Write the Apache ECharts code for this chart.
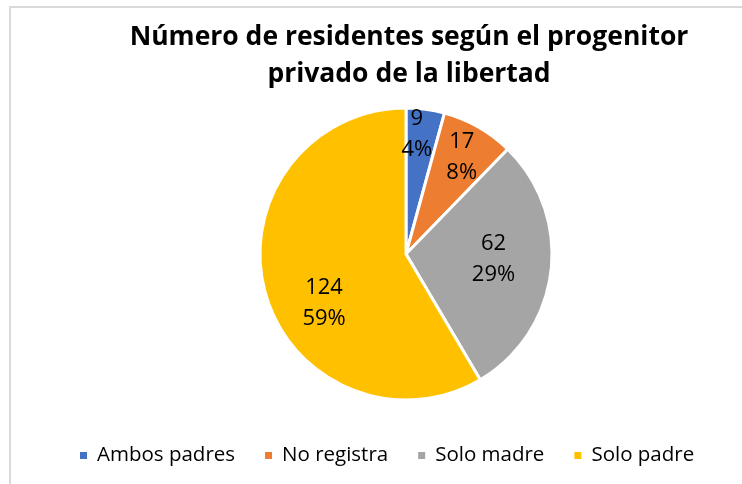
<!DOCTYPE html>
<html>
<head>
<meta charset="utf-8">
<script src="https://cdn.jsdelivr.net/npm/echarts@6/dist/echarts.min.js"></script>
<style>
html, body { margin: 0; padding: 0; background: #fff; }
#chart { width: 742px; height: 484px; }
</style>
</head>
<body>
<div id="chart"></div>
<script>
const categories = ['Ambos padres', 'No registra', 'Solo madre', 'Solo padre'];
const values = [9, 17, 62, 124];
const colors = ['#4472C4', '#ED7D31', '#A5A5A5', '#FFC000'];
// label placement: distance from centre (share of radius) and turn from the slice middle (deg)
const labelDist = [0.83, 0.77, 0.6, 0.65];
const labelTurn = [-2.5, 0, -4, -15];

const cx = 406, cy = 254, radius = 146;
const total = values.reduce((a, b) => a + b, 0);

const chart = echarts.init(document.getElementById('chart'));

const option = {
  animation: false,
  color: colors,
  title: {
    text: 'Número de residentes según el progenitor\nprivado de la libertad',
    left: 409,
    textAlign: 'center',
    top: 19,
    padding: 0,
    textStyle: {
      fontFamily: 'Open Sans',
      fontSize: 26.5,
      fontWeight: 'bold',
      lineHeight: 37,
      color: '#000'
    }
  },
  legend: {
    bottom: 18,
    left: 78,
    padding: 0,
    icon: 'rect',
    itemWidth: 9,
    itemHeight: 9,
    itemGap: 28,
    textStyle: {
      fontFamily: 'Open Sans',
      fontSize: 20.5,
      color: '#000',
      padding: [0, 0, 0, 4]
    },
    data: categories
  },
  graphic: [{
    type: 'rect',
    shape: { x: 10, y: 7, width: 760, height: 500 },
    style: { fill: 'none', stroke: '#d9d9d9', lineWidth: 2 },
    silent: true
  }],
  series: [{
    type: 'pie',
    center: [cx, cy],
    radius: [0, radius],
    startAngle: 90,
    clockwise: true,
    percentPrecision: 0,
    itemStyle: { borderColor: '#fff', borderWidth: 3 },
    label: {
      show: true,
      position: 'inside',
      formatter: '{c}\n{d}%',
      fontFamily: 'Open Sans',
      fontSize: 22,
      lineHeight: 31,
      color: '#000'
    },
    labelLine: { show: false },
    labelLayout: function (params) {
      const i = params.dataIndex;
      let before = 0;
      for (let j = 0; j < i; j++) before += values[j];
      const mid = (before + values[i] / 2) / total * 360 + labelTurn[i];
      const a = mid * Math.PI / 180;
      const d = labelDist[i] * radius;
      return { x: cx + Math.sin(a) * d, y: cy - Math.cos(a) * d + 1, align: 'center', verticalAlign: 'middle' };
    },
    data: categories.map((name, i) => ({ name: name, value: values[i] }))
  }]
};

chart.setOption(option);
</script>
</body>
</html>
